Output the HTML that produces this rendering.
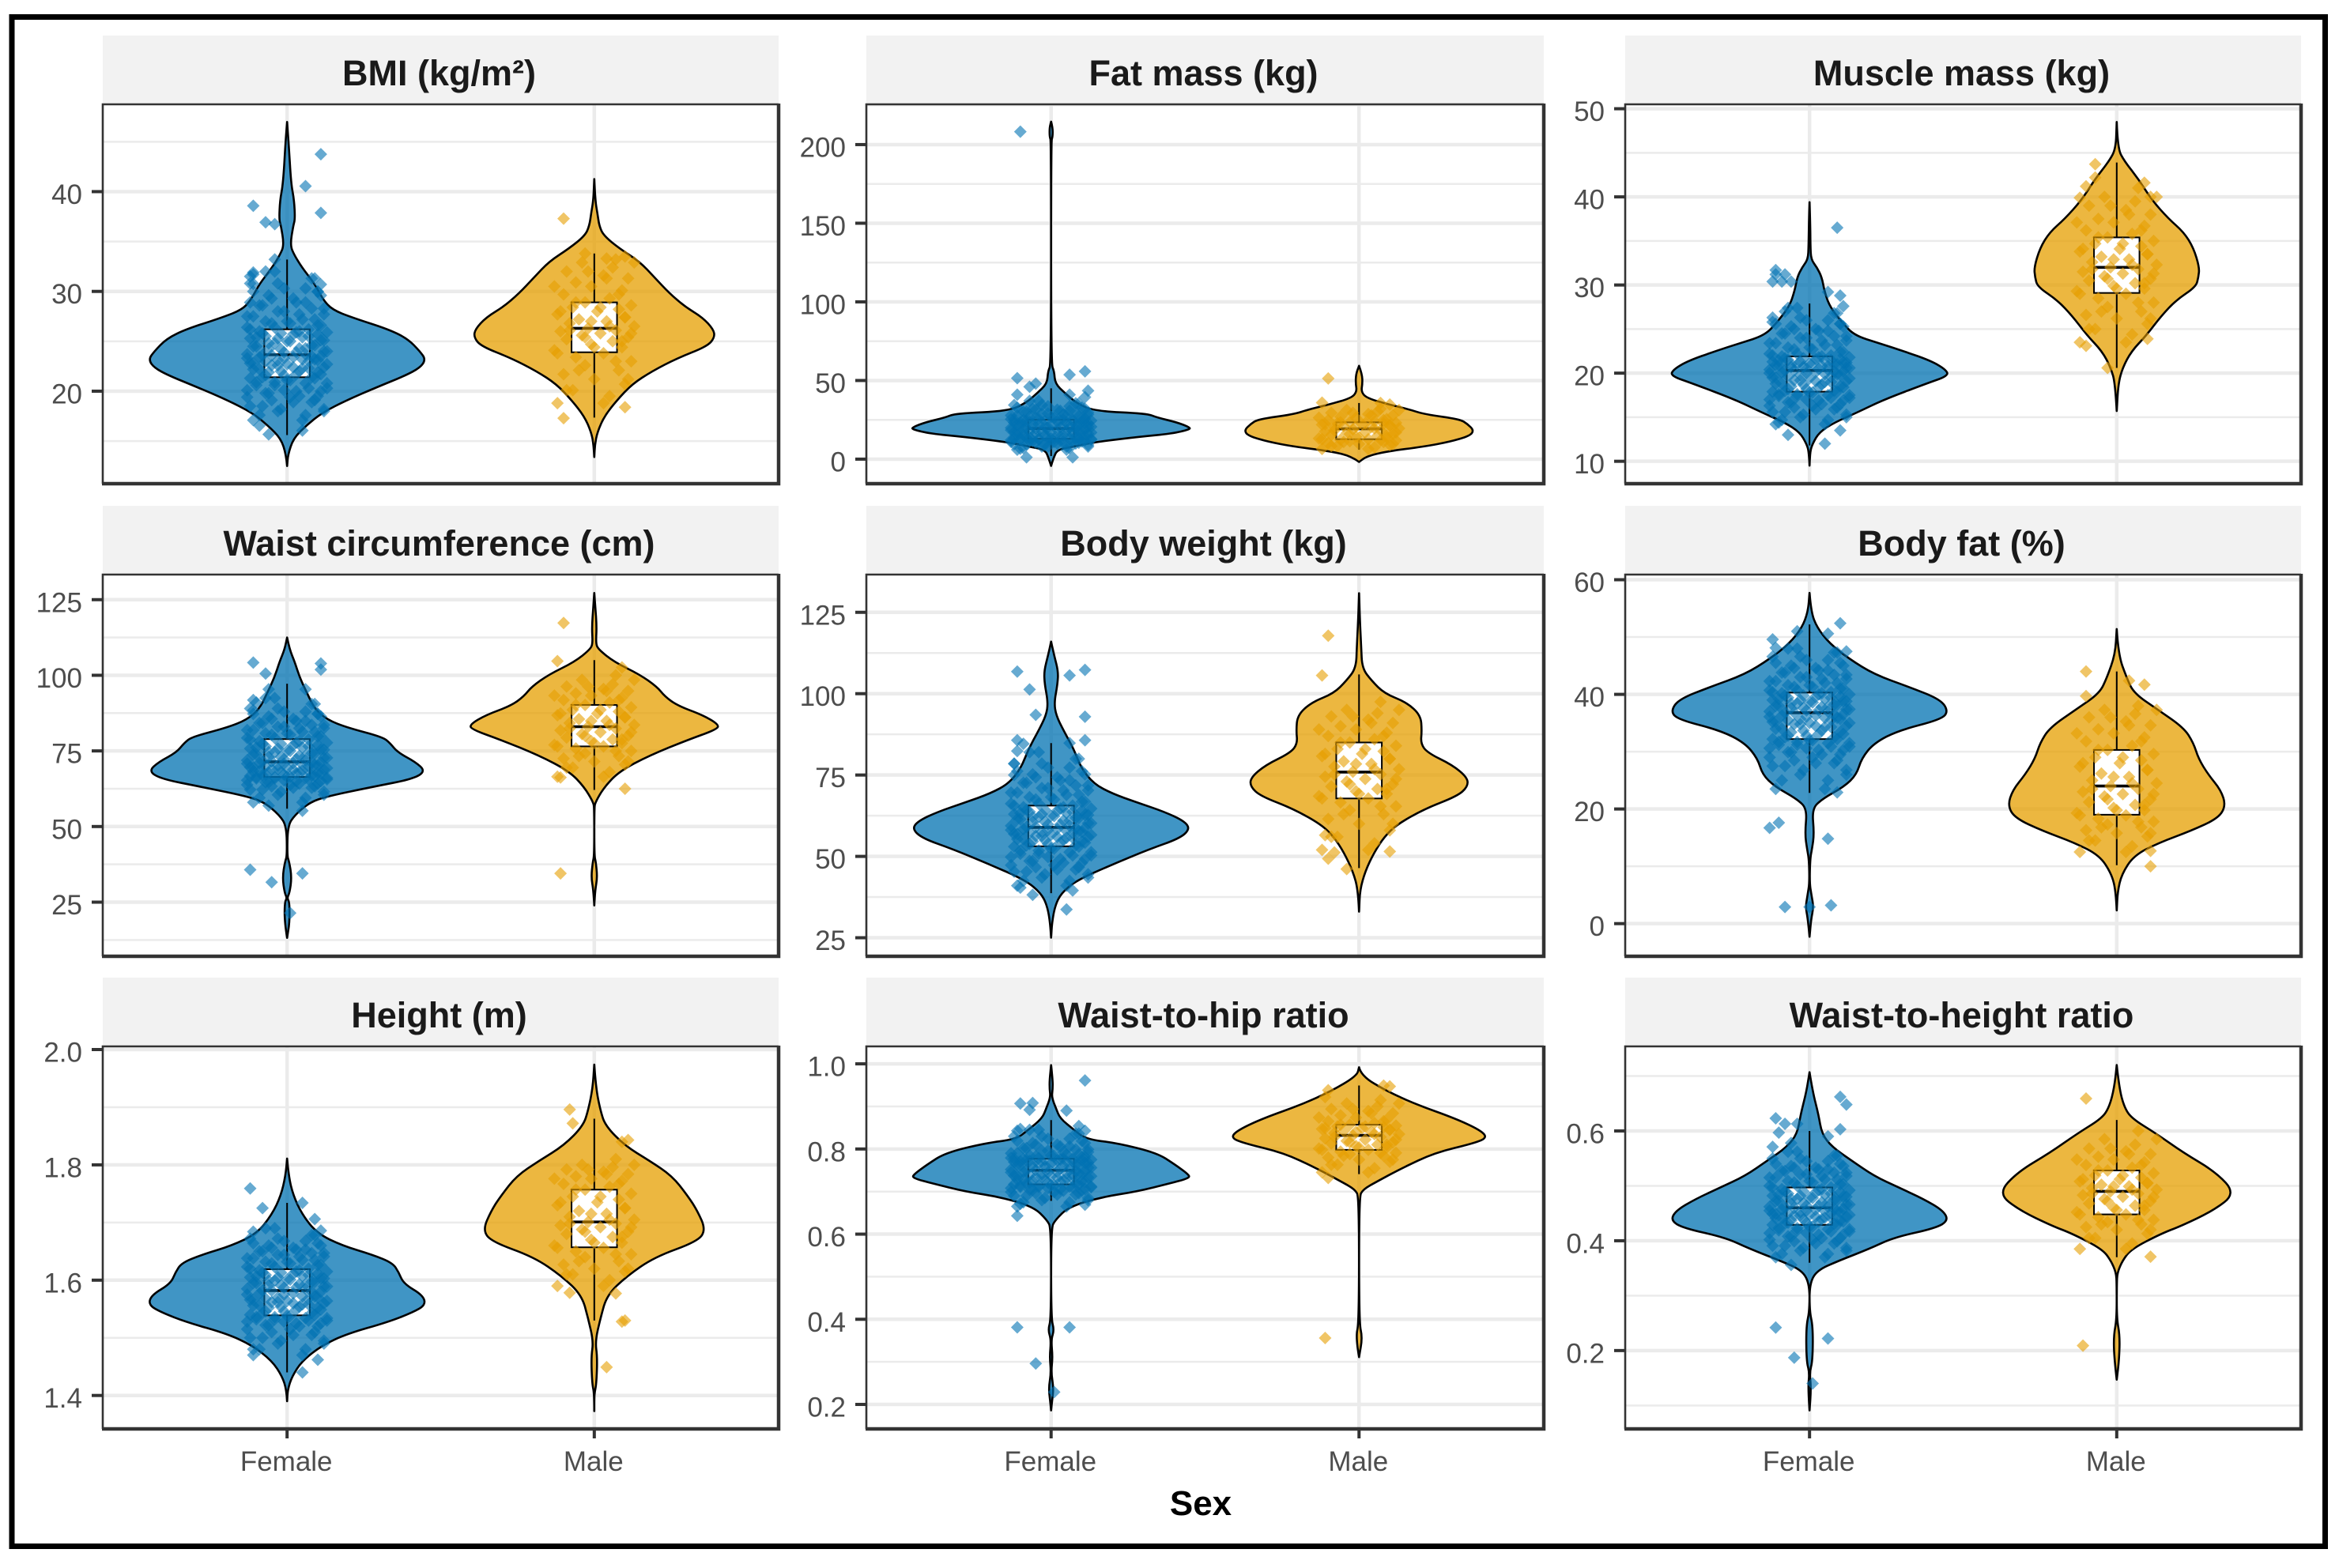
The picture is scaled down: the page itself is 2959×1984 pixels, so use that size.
<!DOCTYPE html>
<html lang="en">
<head>
<meta charset="utf-8">
<title>Body composition by sex</title>
<style>
html,body{margin:0;padding:0;background:#fff;}
svg{display:block;font-family:"Liberation Sans",sans-serif;}
</style>
</head>
<body>
<svg id="chart" xmlns="http://www.w3.org/2000/svg" width="2959" height="1984" viewBox="0 0 2959 1984">
<rect x="0" y="0" width="2959" height="1984" fill="#fff"/>
<rect x="15" y="21.5" width="2926.5" height="1935" fill="none" stroke="#000" stroke-width="7"/>
<text x="1519" y="1917" font-size="44" font-weight="700" text-anchor="middle" fill="#000">Sex</text>
</svg>
<script>
const categories = ["Female", "Male"];
const femaleJitter = [-11,6,-3,12,-8,2,9,-13,4,-6,11,-1,7,-10,13,-4,1,-12,8,-7,3,10,-2,-9,5,12,-5,0,-11,7,-3,9,-13,2,11,-8,6,-1,13,-6,4,-10,8,-4,1,12,-12,5,-7,10,-2,3,-9,7,-13,11,-5,0,9,-11,4,-3,12,-8,6,2,-6,10,-1,-12,8,-4];
const femaleJitterB = [5,-9,12,-2,-12,8,-5,1,10,-7,3,-13,13,-4,6,-10,0,9,-8,-1,11,-6,4,-11,7,2,-3,13,-12,-7,10,5,-1,-9,8,-5,-13,3,12,-2,6,-11,9,-6,0,11,-3,-10,7,2,-8,13,4,-12,-4,10,1,-7,5,-13,12,-1,8,-9,3,-5,11,-11,6,-3,9,-7];
const maleJitter = [-12,5,-7,10,0,-10,8,-3,12,-6,3,-13,9,-1,6,-9,11,-4,2,-11,7,-2,13,-8,4,-5,10,-12,1,8,-7,12,-3,5,-10,9,-1,-6,11,3,-9,6,-4,7];
const maleJitterB = [3,-9,11,-5,7,-12,0,9,-3,12,-8,5,-1,10,-11,2,-6,8,-13,4,-2,13];

/* BMI */
const bmiDomain = [10.73,48.75];
const bmiTicks = [20,30,40];
const bmiTickLabels = ["20","30","40"];
const bmiFemaleLevels = [46.98,44.98,40.78,39.16,37.22,36.58,34.64,33.67,32.37,30.76,29.14,28.17,27.37,26.24,25.27,23.97,23.17,22.36,21.55,20.42,19.13,17.84,16.54,15.25,13.63,12.5];
const bmiFemaleDensity = [0,.005,.013,.023,.026,.02,.01,.023,.049,.09,.118,.147,.213,.327,.392,.433,.451,.433,.384,.294,.196,.114,.062,.02,.003,0];
const bmiFemaleBox = [15.6,21.4,23.65,26.2,33.2];
const bmiFemaleCore = [17.1,17.6,18,18.2,18.5,18.9,19.1,19.4,19.5,19.8,20,20.1,20.3,20.6,20.8,20.9,21.1,21.3,21.4,21.6,21.7,21.9,22,22.2,22.3,22.4,22.6,22.7,22.8,23,23.1,23.2,23.3,23.4,23.5,23.6,23.7,23.9,24,24.2,24.3,24.5,24.6,24.8,25,25.1,25.3,25.4,25.5,25.7,25.8,25.9,26,26.2,26.4,26.6,26.8,27,27.2,27.5,27.7,28,28.3,28.6,28.9,29.3,29.6,30,30.3,30.8,31.3,32];
const bmiFemaleOutX = [11,6,-11,-7,-4,11,-11,-11,-12,-11,11,10,-12,-4,-9,-6,5];
const bmiFemaleOutY = [43.75,40.55,38.58,36.93,36.74,37.87,31.7,31.9,31.5,30.76,30.7,29.95,28.9,33.2,16.54,15.67,16.06];
const bmiMaleLevels = [41.26,39.16,37.87,36.58,35.6,34.3,33,31.4,29.8,28.5,27.4,26.2,25.4,24.5,23.3,22,20.7,19.1,17.5,15.9,14.6,13.4];
const bmiMaleDensity = [0,.003,.01,.016,.03,.082,.147,.196,.245,.294,.352,.388,.392,.368,.27,.188,.123,.074,.033,.01,.002,0];
const bmiMaleBox = [17.35,23.9,26.3,28.9,33.8];
const bmiMaleCore = [18.8,19.5,20.1,20.7,21.2,21.7,22.1,22.6,23,23.4,23.8,24.1,24.4,24.7,25,25.2,25.4,25.6,25.8,26,26.1,26.3,26.5,26.8,27,27.2,27.4,27.7,28,28.2,28.4,28.6,28.9,29.3,29.7,30.1,30.5,30.9,31.3,31.6,32,32.4,32.9,33.2];
const bmiMaleOutX = [-10,10,-10,10,-3,4];
const bmiMaleOutY = [37.3,33.5,17.3,18.4,33.8,33.3];

/* Fat mass */
const fatDomain = [-15.6,225.6];
const fatTicks = [0,50,100,150,200];
const fatTickLabels = ["0","50","100","150","200"];
const fatFemaleLevels = [214.6,211,205,202,60.3,56,48,41.8,35.7,30.6,29,26.5,23.4,20.3,18.9,16.2,14.2,11,8,6,.8,-4.3];
const fatFemaleDensity = [0,.005,.005,0,0,.01,.013,.046,.082,.139,.311,.343,.409,.45,.451,.392,.286,.147,.074,.02,.008,0];
const fatFemaleBox = [2,13,19.5,25,45];
const fatFemaleCore = [6,7,8,9,9.5,10,10.5,11,11.3,11.6,12,12.2,12.4,12.6,12.8,13,13.1,13.3,13.5,14,14.4,14.8,15.1,15.5,15.8,16.2,16.5,16.9,17.2,17.6,17.9,18.2,18.5,18.8,19.1,19.5,19.9,20.3,20.6,21,21.4,21.7,22,22.3,22.6,22.9,23.2,23.5,23.7,24,24.2,24.5,24.8,25,25.4,25.8,26.3,26.8,27.3,27.8,28.4,29,29.6,30.2,30.8,31.4,32,32.8,33.6,34.4,35.5,37];
const fatFemaleOutX = [-10,-11,-7,-5,6,11,-11,6,12,11,-10,-8,7,5,-1];
const fatFemaleOutY = [208.2,51.5,46,48,53.7,55.8,41,41,43.5,39.4,6.6,1.2,1.2,8,8];
const fatMaleLevels = [59.3,54,48,42.9,38.8,34.7,31.6,28.5,25.4,22.4,18.3,14.8,11,8,4.9,1.8,-1.8];
const fatMaleDensity = [0,.01,.011,.007,.025,.098,.164,.213,.327,.352,.373,.36,.294,.213,.09,.025,0];
const fatMaleBox = [6,12.7,19.3,23.4,35.7];
const fatMaleCore = [6.5,7.5,8.3,9,9.7,10.3,10.9,11.4,11.9,12.3,12.7,13.2,13.8,14.3,14.8,15.3,15.9,16.5,17,17.6,18.3,19,19.6,20.1,20.6,21.1,21.5,21.9,22.2,22.5,22.8,23.1,23.4,24,24.8,25.5,26.3,27,27.8,28.6,29.4,30.3,31.2,32];
const fatMaleOutX = [-10,-12,7,10];
const fatMaleOutY = [51.3,35.9,35.7,34.7];

/* Muscle mass */
const muscleDomain = [7.46,50.5];
const muscleTicks = [10,20,30,40,50];
const muscleTickLabels = ["10","20","30","40","50"];
const muscleFemaleLevels = [39.4,37.1,34.5,32.9,32,30.9,29.4,27.6,25.8,24.3,23.4,22.5,21.4,20.4,19.7,18.8,17,15.5,14.4,13.3,12,11.1,9.5];
const muscleFemaleDensity = [0,.002,.003,.005,.024,.04,.048,.065,.105,.145,.226,.306,.395,.444,.452,.379,.242,.153,.081,.032,.01,.002,0];
const muscleFemaleBox = [11.8,17.9,20.3,21.9,27.9];
const muscleFemaleCore = [14.2,14.7,15,15.3,15.6,15.9,16.1,16.3,16.5,16.7,16.9,17,17.2,17.4,17.5,17.6,17.8,17.9,18,18.2,18.4,18.5,18.7,18.8,19,19.1,19.2,19.4,19.5,19.6,19.8,19.9,20,20.1,20.2,20.3,20.4,20.5,20.6,20.7,20.8,20.9,21,21,21.1,21.2,21.3,21.4,21.5,21.6,21.7,21.8,21.9,22,22.2,22.4,22.7,22.9,23.2,23.4,23.7,24,24.2,24.5,24.8,25,25.3,25.6,26,26.3,26.8,27.4];
const muscleFemaleOutX = [9,-11,-8,-12,-9,-6,-11,6,10,11,-8,-12,10,-7,10,5,-10];
const muscleFemaleOutY = [36.5,31.7,31.2,30.4,30.4,30.4,31.2,29.2,28.8,27.6,27,25.8,25.6,13,13.5,12,14.4];
const muscleMaleLevels = [48.5,45.5,44.1,41.9,39.7,37.5,36,34.2,32,30.9,29.8,28.3,26.5,24.3,22.5,20.6,18.8,15.7];
const muscleMaleDensity = [0,.003,.024,.073,.113,.169,.218,.25,.269,.266,.258,.194,.145,.097,.048,.019,.005,0];
const muscleMaleBox = [20.6,29.1,32,35.4,43.9];
const muscleMaleCore = [23.5,24.4,25,25.6,26.2,26.6,27,27.5,28,28.5,29,29.3,29.6,29.9,30.2,30.5,30.7,31,31.3,31.5,31.8,32,32.3,32.6,32.9,33.2,33.5,33.8,34.1,34.4,34.7,35,35.4,35.8,36.2,36.7,37.1,37.5,38,38.5,39,39.5,40,41];
const muscleMaleOutX = [-7,-7,-10,9,-12,11,-10,10,-3];
const muscleMaleOutY = [43.7,42.2,41.2,41.6,39.9,40,23.1,23.9,20.6];

/* Waist circumference */
const waistDomain = [7.1,133.3];
const waistTicks = [25,50,75,100,125];
const waistTickLabels = ["25","50","75","100","125"];
const waistFemaleLevels = [112.5,108.6,104.4,99.3,94.1,88.9,85.3,82.7,79.6,77.6,74.5,71.4,68.3,65.7,63.1,60,58,53.8,50.2,40.4,38.3,33.2,28,26.4,24.9,18.2,13.2];
const waistFemaleDensity = [0,.008,.025,.041,.065,.09,.131,.196,.311,.335,.36,.417,.451,.409,.278,.131,.074,.025,.002,0,.007,.015,.008,0,.008,.008,0];
const waistFemaleBox = [55.9,66.4,71.4,78.9,97.2];
const waistFemaleCore = [58,59.5,60.5,61.5,62.2,62.8,63.3,63.8,64.2,64.6,65,65.3,65.6,65.9,66.1,66.3,66.5,66.7,66.9,67.2,67.5,67.8,68,68.3,68.5,68.8,69,69.3,69.6,69.9,70.2,70.5,70.8,71,71.2,71.5,71.9,72.3,72.7,73,73.4,73.8,74.2,74.6,75,75.4,75.8,76.1,76.5,76.9,77.3,77.7,78.2,78.8,79.3,79.8,80.3,80.8,81.3,81.9,82.5,83,83.6,84.2,84.9,85.6,86.4,87.2,88,89,90.5,92.5];
const waistFemaleOutX = [-11,-7,11,11,-6,6,-11,-10,-11,10,-12,-5,5,1,-6,5];
const waistFemaleOutY = [104.2,100.6,103.9,101.9,95.4,95.4,91.8,91,88.4,87.3,35.7,31.6,34.5,21.4,56.9,55.2];
const waistMaleLevels = [127.2,123,115.8,110.6,108.6,104.4,100.3,96.2,93.1,90,86.9,83.8,82.2,78.6,73.5,68.3,63.1,58,55.9,40.4,38.3,33.2,29,23.9];
const waistMaleDensity = [0,.003,.008,.005,.013,.065,.147,.204,.229,.27,.352,.404,.401,.303,.18,.082,.033,.003,0,0,.005,.01,.003,0];
const waistMaleBox = [62.1,76.5,83,90.2,105];
const waistMaleCore = [66.5,68,69.5,70.5,71.5,72.5,73.3,74.2,75,75.8,76.5,77,77.6,78.2,78.8,79.4,80,80.6,81.2,81.8,82.4,83,83.6,84.2,84.9,85.5,86.1,86.8,87.4,88,88.6,89.4,90.2,91,91.8,92.6,93.3,94,94.8,95.5,96.3,97,98.5,100];
const waistMaleOutX = [-10,-12,9,-11,10,-11];
const waistMaleOutY = [117.3,104.7,102.6,66.2,62.5,34.5];

/* Body weight */
const weightDomain = [19.3,136.6];
const weightTicks = [25,50,75,100,125];
const weightTickLabels = ["25","50","75","100","125"];
const weightFemaleLevels = [116,111.7,106.9,103,97.3,93.4,88.6,82.9,77.1,72.3,69.4,66.6,63.7,60.8,58.4,55.5,52.2,47.4,42.6,38.7,34.9,29.6,25];
const weightFemaleDensity = [0,.01,.023,.021,.01,.016,.041,.074,.098,.139,.196,.278,.368,.433,.451,.417,.319,.196,.082,.033,.013,.003,0];
const weightFemaleBox = [38.7,53.1,58.9,65.6,84.8];
const weightFemaleCore = [41,42.5,43.5,44.5,45.3,46,46.7,47.3,48,48.6,49.2,49.8,50.3,50.8,51.3,51.8,52.4,53,53.4,53.8,54.2,54.6,55,55.3,55.7,56,56.3,56.6,56.9,57.2,57.5,57.8,58.1,58.4,58.7,59,59.4,59.8,60.2,60.6,61,61.4,61.8,62.1,62.4,62.7,63,63.3,63.7,64,64.3,64.7,65.1,65.6,66.2,66.8,67.5,68.2,68.9,69.6,70.3,71,71.8,72.6,73.4,74.3,75.2,76.2,77.3,78.5,80,82];
const weightFemaleOutX = [-11,-7,6,11,-5,11,-11,-9,11,-11,-12,6,-12,-10,-6,7,5];
const weightFemaleOutY = [106.8,101.3,105.6,107.3,93.5,92.9,85.7,84.6,85.7,82.4,78.5,84.8,75,40.4,38.2,39.5,33.7];
const weightMaleLevels = [130.9,122.2,114.5,107.8,104,100.1,97.3,93.4,88.6,84.8,81.9,78.1,74.2,71.4,68.5,64.6,59.8,56,51.2,45.4,39.7,33];
const weightMaleDensity = [0,.003,.007,.01,.041,.082,.155,.2,.204,.2,.221,.303,.352,.353,.319,.213,.123,.082,.049,.02,.003,0];
const weightMaleBox = [46.4,67.8,75.9,85,105.9];
const weightMaleCore = [52,54,56,58,60,61.5,63,64.2,65.4,66.6,67.8,68.5,69.2,70,70.7,71.5,72.2,73,73.8,74.5,75.2,76,76.8,77.6,78.4,79.2,80,80.8,81.5,82.3,83,84,85,86,87,88,89,90,91,92,93,94,95,97.5];
const weightMaleOutX = [-10,-12,-11,-8,-10,10,-4];
const weightMaleOutY = [117.8,105.6,56.5,51.2,49.3,51.5,46.1];

/* Body fat percent */
const pctDomain = [-5.7,60.9];
const pctTicks = [0,20,40,60];
const pctTickLabels = ["0","20","40","60"];
const pctFemaleLevels = [57.7,54.4,51.7,48.9,46.2,43.5,41.3,39.1,37,35.6,33.7,31.5,28.8,26,23.9,21.7,20,15.7,13,11.3,7.2,5.1,2.9,.7,-2.3];
const pctFemaleDensity = [0,.005,.024,.065,.129,.21,.323,.427,.452,.427,.29,.21,.169,.153,.113,.04,.008,.015,.008,.002,0,.006,.013,.005,0];
const pctFemaleBox = [22.8,32.2,36.8,40.3,52.2];
const pctFemaleCore = [23.5,25,26,26.8,27.5,28,28.5,29,29.5,29.9,30.3,30.6,30.9,31.2,31.5,31.7,32,32.2,32.5,32.8,33.1,33.4,33.7,34,34.3,34.5,34.8,35,35.2,35.5,35.7,35.9,36.1,36.3,36.5,36.8,37,37.2,37.4,37.6,37.8,38,38.2,38.4,38.6,38.8,39,39.2,39.4,39.6,39.8,40,40.2,40.4,40.7,41,41.3,41.6,42,42.3,42.7,43,43.4,43.8,44.2,44.6,45,45.5,46,46.6,47.3,48];
const pctFemaleOutX = [10,6,-4,-12,-11,12,-13,-10,6,-8,7,9,0];
const pctFemaleOutY = [52.4,50.6,51,49.6,48.1,47.5,16.7,17.6,14.8,2.9,3.2,22.9,2.9];
const pctMaleLevels = [51.4,47,42.9,40.2,37.5,34.2,31.5,28.8,26,23.3,20.6,18.4,16.2,14.1,11.9,8.6,5.6,2.3];
const pctMaleDensity = [0,.005,.032,.056,.129,.218,.25,.266,.298,.339,.355,.331,.242,.137,.056,.016,.003,0];
const pctMaleBox = [10.2,19,24,30.3,44];
const pctMaleCore = [12.5,13.5,14.5,15.2,15.8,16.3,16.8,17.3,17.8,18.3,18.9,19.3,19.8,20.2,20.7,21.2,21.7,22.2,22.6,23,23.5,24,24.5,25,25.6,26.2,26.8,27.4,28,28.5,29,29.6,30.3,31,31.8,32.5,33.2,33.9,34.6,35.3,36,36.6,37.3,38];
const pctMaleOutX = [-10,4,9,-10,11,11];
const pctMaleOutY = [44,42.4,41.7,39.7,12.7,10];

/* Height */
const heightDomain = [1.342,2.0055];
const heightTicks = [1.4,1.6,1.8,2.0];
const heightTickLabels = ["1.4","1.6","1.8","2.0"];
const heightFemaleLevels = [1.811,1.781,1.747,1.714,1.681,1.66,1.644,1.63,1.614,1.594,1.574,1.557,1.544,1.527,1.507,1.487,1.46,1.433,1.41,1.39];
const heightFemaleDensity = [0,.005,.02,.049,.098,.18,.278,.343,.363,.379,.442,.451,.409,.327,.196,.114,.049,.016,.002,0];
const heightFemaleBox = [1.44,1.539,1.582,1.619,1.734];
const heightFemaleCore = [1.47,1.48,1.49,1.495,1.5,1.505,1.51,1.515,1.52,1.522,1.525,1.528,1.53,1.532,1.534,1.536,1.538,1.54,1.543,1.546,1.549,1.552,1.554,1.556,1.558,1.56,1.562,1.564,1.566,1.568,1.57,1.572,1.575,1.577,1.58,1.582,1.585,1.587,1.589,1.591,1.593,1.595,1.597,1.599,1.601,1.603,1.605,1.607,1.609,1.611,1.613,1.615,1.617,1.62,1.623,1.626,1.629,1.632,1.635,1.638,1.641,1.644,1.647,1.65,1.653,1.656,1.66,1.664,1.668,1.672,1.678,1.69];
const heightFemaleOutX = [-12,-8,5,9,11,-11,10,5,-11];
const heightFemaleOutY = [1.759,1.725,1.734,1.706,1.686,1.684,1.462,1.44,1.48];
const heightMaleLevels = [1.974,1.934,1.894,1.868,1.834,1.807,1.781,1.747,1.721,1.687,1.667,1.64,1.607,1.574,1.534,1.494,1.467,1.42,1.403,1.373];
const heightMaleDensity = [0,.005,.02,.036,.098,.18,.253,.303,.335,.363,.335,.196,.106,.041,.02,.003,.01,.007,0,0];
const heightMaleBox = [1.53,1.657,1.701,1.757,1.88];
const heightMaleCore = [1.59,1.6,1.61,1.615,1.62,1.627,1.633,1.64,1.645,1.65,1.656,1.66,1.665,1.67,1.675,1.68,1.684,1.688,1.692,1.695,1.698,1.701,1.705,1.71,1.715,1.72,1.725,1.73,1.735,1.74,1.745,1.75,1.757,1.762,1.767,1.772,1.776,1.78,1.784,1.788,1.792,1.796,1.8,1.81];
const heightMaleOutX = [-8,-7,11,9,-8,7,9,10,4];
const heightMaleOutY = [1.896,1.872,1.843,1.84,1.578,1.577,1.528,1.53,1.449];

/* Waist-to-hip ratio */
const whrDomain = [.1425,1.041];
const whrTicks = [.2,.4,.6,.8,1.0];
const whrTickLabels = ["0.2","0.4","0.6","0.8","1.0"];
const whrFemaleLevels = [.997,.963,.94,.922,.895,.872,.845,.823,.814,.791,.764,.741,.732,.719,.7,.687,.664,.633,.614,.402,.375,.352,.311,.275,.239,.207,.186];
const whrFemaleDensity = [0,.005,.005,.002,.016,.029,.074,.114,.213,.343,.401,.445,.451,.384,.278,.164,.057,.013,0,0,.01,0,.005,0,.008,.003,0];
const whrFemaleBox = [.678,.717,.75,.777,.868];
const whrFemaleCore = [.665,.675,.68,.685,.69,.693,.696,.699,.702,.704,.706,.708,.71,.711,.712,.714,.715,.717,.719,.721,.723,.725,.727,.729,.731,.733,.734,.736,.737,.739,.741,.743,.745,.746,.748,.75,.752,.754,.756,.758,.76,.762,.763,.765,.766,.768,.769,.771,.772,.773,.774,.775,.776,.777,.779,.781,.783,.785,.787,.79,.793,.796,.799,.802,.806,.81,.814,.819,.824,.83,.836,.845];
const whrFemaleOutX = [11,-10,-6,-7,5,-11,-11,6,-5,1,-11,-10,11,9,11,-10];
const whrFemaleOutY = [.961,.907,.908,.892,.89,.643,.381,.381,.296,.229,.843,.847,.843,.854,.669,.671];
const whrMaleLevels = [.992,.972,.936,.904,.872,.845,.827,.814,.791,.755,.723,.705,.687,.393,.357,.311];
const whrMaleDensity = [0,.007,.09,.188,.311,.392,.417,.376,.245,.139,.057,.013,0,0,.011,0];
const whrMaleBox = [.741,.798,.832,.857,.949];
const whrMaleCore = [.745,.755,.763,.77,.775,.78,.784,.788,.791,.794,.798,.801,.804,.807,.81,.813,.816,.819,.822,.825,.828,.832,.835,.837,.84,.842,.845,.847,.849,.851,.853,.855,.857,.861,.865,.869,.874,.879,.884,.889,.894,.9,.907,.915];
const whrMaleOutX = [-10,-11,8,-11,10,-10];
const whrMaleOutY = [.938,.922,.949,.356,.947,.732];

/* Waist-to-height ratio */
const whtrDomain = [.0573,.754];
const whtrTicks = [.2,.4,.6];
const whtrTickLabels = ["0.2","0.4","0.6"];
const whtrFemaleLevels = [.707,.672,.63,.595,.571,.546,.518,.497,.476,.455,.437,.423,.406,.385,.364,.346,.321,.272,.244,.181,.16,.132,.091];
const whtrFemaleDensity = [0,.01,.029,.04,.073,.137,.21,.29,.371,.435,.452,.411,.274,.194,.097,.024,0,0,.011,.01,0,.005,0];
const whtrFemaleBox = [.36,.429,.46,.497,.6];
const whtrFemaleCore = [.37,.376,.382,.387,.391,.395,.399,.402,.405,.408,.411,.414,.417,.419,.421,.423,.426,.429,.431,.433,.435,.437,.439,.441,.442,.444,.446,.447,.449,.45,.452,.454,.455,.457,.458,.46,.462,.464,.466,.468,.47,.472,.474,.476,.478,.48,.482,.484,.486,.488,.49,.492,.494,.497,.5,.503,.506,.509,.512,.515,.518,.521,.524,.527,.53,.533,.536,.54,.545,.55,.555,.562];
const whtrFemaleOutX = [10,12,-11,-8,-10,10,6,-12,-6,-4,-6,-11,6,-5,1];
const whtrFemaleOutY = [.662,.648,.623,.613,.597,.603,.59,.571,.578,.613,.356,.242,.222,.187,.14];
const whtrMaleLevels = [.72,.679,.644,.623,.595,.56,.525,.486,.455,.427,.413,.385,.364,.342,.321,.258,.227,.185,.147];
const whtrMaleDensity = [0,.008,.024,.048,.129,.218,.323,.387,.315,.21,.145,.048,.019,.002,0,0,.01,.008,0];
const whtrMaleBox = [.37,.448,.49,.528,.62];
const whtrMaleCore = [.385,.395,.405,.413,.42,.425,.43,.434,.438,.443,.448,.452,.456,.46,.464,.468,.472,.476,.48,.483,.486,.49,.493,.496,.499,.502,.505,.508,.512,.515,.519,.523,.528,.533,.538,.543,.548,.553,.558,.563,.568,.575,.585,.6];
const whtrMaleOutX = [-10,11,-11];
const whtrMaleOutY = [.659,.371,.209];

const panelTitles = ["BMI (kg/m²)","Fat mass (kg)","Muscle mass (kg)","Waist circumference (cm)","Body weight (kg)","Body fat (%)","Height (m)","Waist-to-hip ratio","Waist-to-height ratio"];
const panelSlugs = ["bmi","fat-mass","muscle-mass","waist-circumference","body-weight","body-fat","height","waist-to-hip","waist-to-height"];

const panelSeries = [
 {domain:bmiDomain,ticks:bmiTicks,labels:bmiTickLabels,
  f:{lv:bmiFemaleLevels,d:bmiFemaleDensity,box:bmiFemaleBox,core:bmiFemaleCore,ox:bmiFemaleOutX,oy:bmiFemaleOutY},
  m:{lv:bmiMaleLevels,d:bmiMaleDensity,box:bmiMaleBox,core:bmiMaleCore,ox:bmiMaleOutX,oy:bmiMaleOutY}},
 {domain:fatDomain,ticks:fatTicks,labels:fatTickLabels,
  f:{lv:fatFemaleLevels,d:fatFemaleDensity,box:fatFemaleBox,core:fatFemaleCore,ox:fatFemaleOutX,oy:fatFemaleOutY},
  m:{lv:fatMaleLevels,d:fatMaleDensity,box:fatMaleBox,core:fatMaleCore,ox:fatMaleOutX,oy:fatMaleOutY}},
 {domain:muscleDomain,ticks:muscleTicks,labels:muscleTickLabels,
  f:{lv:muscleFemaleLevels,d:muscleFemaleDensity,box:muscleFemaleBox,core:muscleFemaleCore,ox:muscleFemaleOutX,oy:muscleFemaleOutY},
  m:{lv:muscleMaleLevels,d:muscleMaleDensity,box:muscleMaleBox,core:muscleMaleCore,ox:muscleMaleOutX,oy:muscleMaleOutY}},
 {domain:waistDomain,ticks:waistTicks,labels:waistTickLabels,
  f:{lv:waistFemaleLevels,d:waistFemaleDensity,box:waistFemaleBox,core:waistFemaleCore,ox:waistFemaleOutX,oy:waistFemaleOutY},
  m:{lv:waistMaleLevels,d:waistMaleDensity,box:waistMaleBox,core:waistMaleCore,ox:waistMaleOutX,oy:waistMaleOutY}},
 {domain:weightDomain,ticks:weightTicks,labels:weightTickLabels,
  f:{lv:weightFemaleLevels,d:weightFemaleDensity,box:weightFemaleBox,core:weightFemaleCore,ox:weightFemaleOutX,oy:weightFemaleOutY},
  m:{lv:weightMaleLevels,d:weightMaleDensity,box:weightMaleBox,core:weightMaleCore,ox:weightMaleOutX,oy:weightMaleOutY}},
 {domain:pctDomain,ticks:pctTicks,labels:pctTickLabels,
  f:{lv:pctFemaleLevels,d:pctFemaleDensity,box:pctFemaleBox,core:pctFemaleCore,ox:pctFemaleOutX,oy:pctFemaleOutY},
  m:{lv:pctMaleLevels,d:pctMaleDensity,box:pctMaleBox,core:pctMaleCore,ox:pctMaleOutX,oy:pctMaleOutY}},
 {domain:heightDomain,ticks:heightTicks,labels:heightTickLabels,
  f:{lv:heightFemaleLevels,d:heightFemaleDensity,box:heightFemaleBox,core:heightFemaleCore,ox:heightFemaleOutX,oy:heightFemaleOutY},
  m:{lv:heightMaleLevels,d:heightMaleDensity,box:heightMaleBox,core:heightMaleCore,ox:heightMaleOutX,oy:heightMaleOutY}},
 {domain:whrDomain,ticks:whrTicks,labels:whrTickLabels,
  f:{lv:whrFemaleLevels,d:whrFemaleDensity,box:whrFemaleBox,core:whrFemaleCore,ox:whrFemaleOutX,oy:whrFemaleOutY},
  m:{lv:whrMaleLevels,d:whrMaleDensity,box:whrMaleBox,core:whrMaleCore,ox:whrMaleOutX,oy:whrMaleOutY}},
 {domain:whtrDomain,ticks:whtrTicks,labels:whtrTickLabels,
  f:{lv:whtrFemaleLevels,d:whtrFemaleDensity,box:whtrFemaleBox,core:whtrFemaleCore,ox:whtrFemaleOutX,oy:whtrFemaleOutY},
  m:{lv:whtrMaleLevels,d:whtrMaleDensity,box:whtrMaleBox,core:whtrMaleCore,ox:whtrMaleOutX,oy:whtrMaleOutY}}
];

const SVGNS = "http://www.w3.org/2000/svg";
const root = document.getElementById("chart");
const COLS = [[130,985],[1096,1953],[2056,2911]];
const ROWS = [[132,612],[727,1210],[1324,1808]];
const COLOR_F = "#0072B2", COLOR_M = "#E69F00";

function mk(parent, tag, attrs, text) {
  const el = document.createElementNS(SVGNS, tag);
  for (const k in attrs) el.setAttribute(k, attrs[k]);
  if (text !== undefined) el.textContent = text;
  parent.appendChild(el);
  return el;
}

/* Rounded outline through a half-profile: quadratic segments between midpoints. */
function smoothSide(pts) {
  let d = "";
  for (let i = 1; i < pts.length - 1; i++) {
    const mx = (pts[i][0] + pts[i + 1][0]) / 2, my = (pts[i][1] + pts[i + 1][1]) / 2;
    d += `Q${pts[i][0].toFixed(1)} ${pts[i][1].toFixed(1)} ${mx.toFixed(1)} ${my.toFixed(1)}`;
  }
  const last = pts[pts.length - 1];
  return d + `L${last[0].toFixed(1)} ${last[1].toFixed(1)}`;
}

function drawViolin(g, s, cat, color, xs, ys, dots, jitter, jitterB, stride, prefix) {
  const right = s.lv.map((v, i) => [xs(cat + (s.d[i] || 0)), ys(v)]);
  const left = s.lv.map((v, i) => [xs(cat - (s.d[i] || 0)), ys(v)]).reverse();
  const pathD = `M${right[0][0].toFixed(1)} ${right[0][1].toFixed(1)}` + smoothSide(right) + smoothSide(left) + "Z";
  const vio = mk(g, "path", {d: pathD, fill: color, "fill-opacity": .75, stroke: "#000", "stroke-width": 2.6, "stroke-linejoin": "round"});
  
  

  const [lo, q1, med, q3, hi] = s.box;
  const bw = 0.074;
  const wh = mk(g, "line", {x1: xs(cat), x2: xs(cat), y1: ys(lo), y2: ys(hi), stroke: "#000", "stroke-width": 2});
  
  
  const bx = mk(g, "rect", {x: xs(cat - bw), y: ys(q3), width: xs(cat + bw) - xs(cat - bw), height: ys(q1) - ys(q3), fill: "#fff", stroke: "#000", "stroke-width": 2});
  
  
  const md = mk(g, "line", {x1: xs(cat - bw), x2: xs(cat + bw), y1: ys(med), y2: ys(med), stroke: "#000", "stroke-width": 3.6});
  
  

  const addDot = (jit, v) => {
    const cx = xs(cat + jit / 100), cy = ys(v), r = 8;
    const p = mk(dots, "polygon", {points: `${cx.toFixed(1)},${(cy - r).toFixed(1)} ${(cx + r).toFixed(1)},${cy.toFixed(1)} ${cx.toFixed(1)},${(cy + r).toFixed(1)} ${(cx - r).toFixed(1)},${cy.toFixed(1)}`, fill: color, "fill-opacity": .6});
    
    
  };
  s.core.forEach((v, i) => {
    addDot(jitter[i % jitter.length], v);
    if (i % stride === 0) addDot(jitterB[(i / stride) % jitterB.length], v);
  });
  s.oy.forEach((v, i) => addDot(s.ox[i], v));
}

panelSeries.forEach((ps, idx) => {
  const col = COLS[idx % 3], row = ROWS[Math.floor(idx / 3)];
  const [L, R] = col, [T, B] = row;
  const xs = c => L + (c - 0.4) / 2.2 * (R - L);
  const ys = v => B - (v - ps.domain[0]) / (ps.domain[1] - ps.domain[0]) * (B - T);
  const slug = panelSlugs[idx];

  const g = mk(root, "g", {});
  
  

  const strip = mk(g, "rect", {x: L, y: T - 87, width: R - L, height: 87, fill: "#f2f2f2"});
  
  
  const title = mk(g, "text", {x: (L + R) / 2 - 2, y: T - 24, "font-size": 45, "font-weight": 700, "text-anchor": "middle", fill: "#1a1a1a"}, panelTitles[idx]);
  
  

  const step = ps.ticks[1] - ps.ticks[0];
  for (let k = -1; k < ps.ticks.length; k++) {
    const mv = ps.ticks[0] + (k + 0.5) * step;
    if (mv > ps.domain[0] && mv < ps.domain[1]) {
      const ln = mk(g, "line", {x1: L, x2: R, y1: ys(mv), y2: ys(mv), stroke: "#ebebeb", "stroke-width": 2.5});
      
      
    }
  }
  ps.ticks.forEach(t => {
    const ln = mk(g, "line", {x1: L, x2: R, y1: ys(t), y2: ys(t), stroke: "#ebebeb", "stroke-width": 4.5});
    
    
  });
  categories.forEach((c, i) => {
    const ln = mk(g, "line", {x1: xs(i + 1), x2: xs(i + 1), y1: T, y2: B, stroke: "#ebebeb", "stroke-width": 4.5});
    
    
  });

  const bodies = mk(g, "g", {});
  
  
  const dotsF = document.createElementNS(SVGNS, "g");
  
  
  const dotsM = document.createElementNS(SVGNS, "g");
  
  
  drawViolin(bodies, ps.f, 1, COLOR_F, xs, ys, dotsF, femaleJitter, femaleJitterB, 1, slug + '-female');
  bodies.appendChild(dotsF);
  drawViolin(bodies, ps.m, 2, COLOR_M, xs, ys, dotsM, maleJitter, maleJitterB, 2, slug + '-male');
  bodies.appendChild(dotsM);

  const bl = mk(g, "path", {d: `M${L} ${B}V${T}H${R}`, fill: "none", stroke: "#333", "stroke-width": 2.6});
  
  
  const br = mk(g, "path", {d: `M${L - 1} ${B}H${R}V${T - 1}`, fill: "none", stroke: "#333", "stroke-width": 4.5});
  
  

  ps.ticks.forEach((t, i) => {
    const tk = mk(g, "line", {x1: L - 14, x2: L, y1: ys(t), y2: ys(t), stroke: "#333", "stroke-width": 4});
    
    
    const lb = mk(g, "text", {x: L - 26, y: ys(t) + 15.5, "font-size": 35, "text-anchor": "end", fill: "#4d4d4d"}, ps.labels[i]);
    
    
  });

  if (idx >= 6) {
    categories.forEach((c, i) => {
      const tk = mk(g, "line", {x1: xs(i + 1), x2: xs(i + 1), y1: B, y2: B + 12, stroke: "#333", "stroke-width": 4});
      
      
      const lb = mk(g, "text", {x: xs(i + 1) - 1, y: 1861, "font-size": 35, "text-anchor": "middle", fill: "#4d4d4d"}, c);
      
      
    });
  }
});
</script>
</body>
</html>
